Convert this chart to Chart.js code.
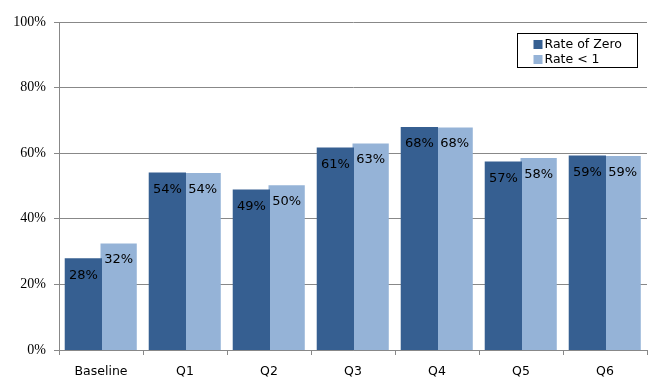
<!DOCTYPE html>
<html><head><meta charset="utf-8">
<script src="https://cdn.jsdelivr.net/npm/chart.js@4/dist/chart.umd.min.js"></script>
<style>html,body{margin:0;padding:0;background:#fff}#wrap{width:666px;height:388px}</style>
</head><body><div id="wrap"><canvas id="c" width="666" height="388"></canvas></div>
<script>
const categories = ["Baseline","Q1","Q2","Q3","Q4","Q5","Q6"];
const rateZero = [27.7,53.8,48.6,61.4,67.7,57.2,59.0];
const rateLess1 = [32.3,53.8,50.1,62.8,67.7,58.4,59.0];
const yTicks = [0,20,40,60,80,100];
const seriesNames = ["Rate of Zero","Rate < 1"];
const colors = ["#365F91","#95B3D7"];

const labelPlugin = {
  id:'barLabels',
  afterDatasetsDraw(chart){
    const ctx = chart.ctx;
    ctx.save();
    ctx.font = '13px "DejaVu Sans"';
    ctx.fillStyle = '#000';
    ctx.textAlign = 'center';
    ctx.textBaseline = 'middle';
    chart.data.datasets.forEach((ds,i)=>{
      chart.getDatasetMeta(i).data.forEach((bar,j)=>{
        ctx.fillText(Math.round(ds.data[j])+'%', bar.x, bar.y+16);
      });
    });
    ctx.restore();
  }
};
const legendPlugin = {
  id:'boxLegend',
  afterDraw(chart){
    const ctx = chart.ctx;
    ctx.save();
    const x=517.5,y=33.5,w=120,h=34;
    ctx.fillStyle='#fff';ctx.fillRect(x,y,w,h);
    ctx.strokeStyle='#000';ctx.lineWidth=1;ctx.strokeRect(x,y,w,h);
    ctx.font='12.5px "DejaVu Sans"';ctx.textBaseline='middle';ctx.textAlign='left';
    chart.data.datasets.forEach((ds,i)=>{
      const cy = y+11+i*15;
      ctx.fillStyle=ds.backgroundColor;ctx.fillRect(x+16,cy-4.5,9,9);
      ctx.fillStyle='#000';ctx.fillText(ds.label,x+27,cy);
    });
    ctx.restore();
  }
};
new Chart(document.getElementById('c'),{
  type:'bar',
  data:{labels:categories,datasets:[
    {label:seriesNames[0],data:rateZero,backgroundColor:colors[0],borderWidth:0,inflateAmount:1},
    {label:seriesNames[1],data:rateLess1,backgroundColor:colors[1],borderWidth:0,inflateAmount:0.5}
  ]},
  options:{
    responsive:false,animation:false,
    layout:{padding:{top:22,right:19,left:0,bottom:0}},
    plugins:{legend:{display:false},tooltip:{enabled:false}},
    datasets:{bar:{categoryPercentage:0.84,barPercentage:1.0}},
    scales:{
      x:{grid:{offset:true,drawOnChartArea:false,color:'#888',tickLength:5},
         border:{color:'#888'},
         ticks:{color:'#000',font:{family:'DejaVu Sans',size:12.5},padding:9},
         afterFit(s){s.height=38;}},
      y:{min:0,max:100,
         afterBuildTicks(s){s.ticks=yTicks.map(v=>({value:v}));},
         grid:{color:'#888',tickLength:5},
         border:{color:'#888'},
         ticks:{color:'#000',font:{family:'Liberation Serif',size:14},padding:8,callback:v=>v+'%'},
         afterFit(s){s.width=59;}}
    }
  },
  plugins:[labelPlugin,legendPlugin]
});
</script></body></html>
